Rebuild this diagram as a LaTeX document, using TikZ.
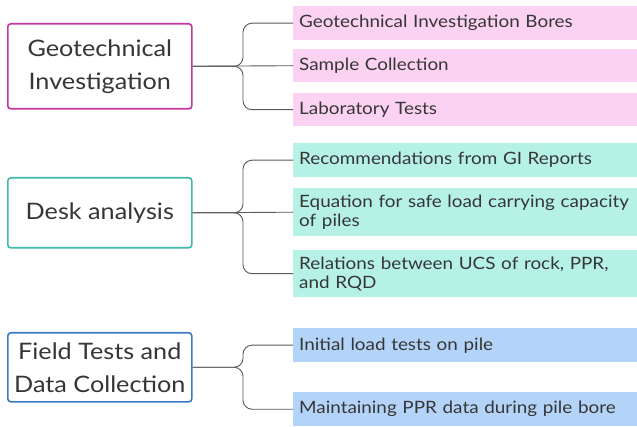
\documentclass[tikz,border=0pt]{standalone}
\usepackage{fontspec}
\setmainfont{Lato}[FakeStretch=1.11]
\definecolor{txt}{HTML}{363636}
\definecolor{magb}{HTML}{C2369E}
\definecolor{tealb}{HTML}{3DBAAA}
\definecolor{blueb}{HTML}{3C7CC6}
\definecolor{pinkf}{HTML}{FBD2F1}
\definecolor{tealf}{HTML}{B6F1E6}
\definecolor{bluef}{HTML}{B4D3F8}
\definecolor{conn}{HTML}{5A5A5A}
\begin{document}
\begin{tikzpicture}[x=1pt,y=-1pt,
  mainbox/.style={draw, line width=1.6pt, rounded corners=3pt, fill=white, anchor=north west,
    minimum width=184pt, align=center, text=txt, font=\fontsize{22.7}{33}\selectfont, inner sep=0pt},
  leaf/.style={anchor=north west, minimum width=349pt, text width=337pt, inner xsep=6pt, inner ysep=0pt,
    align=left, text=txt, font=\fontsize{17}{19}\selectfont},
  pinkleaf/.style={leaf, fill=pinkf},
  tealleaf/.style={leaf, fill=tealf},
  blueleaf/.style={leaf, fill=bluef},
  link/.style={draw=conn, line width=0.9pt, rounded corners=9pt}]
\useasboundingbox[fill=white] (0,0) rectangle (637,427);
% main boxes
\node[mainbox, draw=magb, minimum height=85pt] (g) at (7,23) {Geotechnical\\Investigation};
\node[mainbox, draw=tealb, minimum height=70pt] (d) at (7,177) {Desk analysis};
\node[mainbox, draw=blueb, minimum height=69pt] (f) at (7,332) {Field Tests and\\Data Collection};
% leaves
\node[pinkleaf, minimum height=34pt] (g1) at (293,6) {Geotechnical Investigation Bores};
\node[pinkleaf, minimum height=33pt] (g2) at (293,49) {Sample Collection};
\node[pinkleaf, minimum height=33pt] (g3) at (293,93) {Laboratory Tests};
\node[tealleaf, minimum height=34pt] (d1) at (293,143) {Recommendations from GI Reports};
\node[tealleaf, minimum height=48pt] (d2) at (293,188) {Equation for safe load carrying capacity\\of piles};
\node[tealleaf, minimum height=47pt] (d3) at (293,250) {Relations between UCS of rock, PPR,\\and RQD};
\node[blueleaf, minimum height=34pt] (f1) at (293,328) {Initial load tests on pile};
\node[blueleaf, minimum height=34pt] (f2) at (293,392) {Maintaining PPR data during pile bore};
% brace x
\coordinate (bx) at (243,0);
% connectors
\draw[link] (g.east) -- (g.east -| bx) |- (g1.west);
\draw[link] (g.east) -- (g2.west);
\draw[link] (g.east) -- (g.east -| bx) |- (g3.west);
\draw[link] (d.east) -- (d.east -| bx) |- (d1.west);
\draw[link] (d.east) -- (d2.west);
\draw[link] (d.east) -- (d.east -| bx) |- (d3.west);
\draw[link] (f.east) -- (f.east -| bx) |- (f1.west);
\draw[link] (f.east) -- (f.east -| bx) |- (f2.west);
\end{tikzpicture}
\end{document}
